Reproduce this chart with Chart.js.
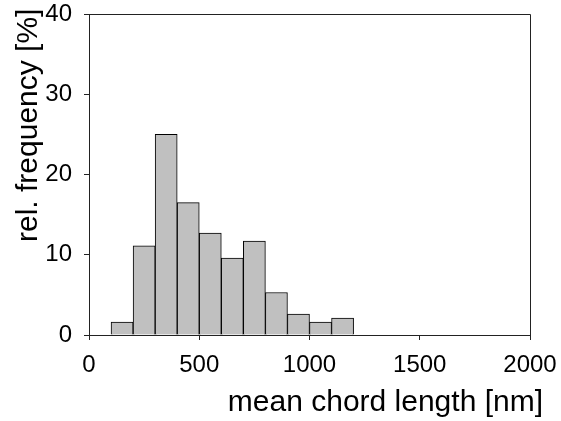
<!DOCTYPE html>
<html lang="en">
<head>
  <meta charset="UTF-8">
  <title>Mean chord length histogram</title>
  <script src="https://cdn.jsdelivr.net/npm/chart.js"></script>
  <style>
    html, body { margin: 0; padding: 0; background: #fff; }
  </style>
</head>
<body>
  <canvas id="myChart" width="561" height="421"></canvas>

  <script>
    // histogram bins (lower edge, nm), width 100 nm
    var binStart = [100, 200, 300, 400, 500, 600, 700, 800, 900, 1000, 1100];
    var binWidth = 100;
    // relative frequency [%]
    var freq = [1.6, 11.1, 25.0, 16.5, 12.7, 9.6, 11.7, 5.3, 2.6, 1.6, 2.1];
    var xTicks = [0, 500, 1000, 1500, 2000];
    var yTicks = [0, 10, 20, 30, 40];

    var FONT = 'Liberation Sans, Arial, sans-serif';

    // frame + axis titles
    var framePlugin = {
      id: 'frame',
      afterDraw: function(chart) {
        var ctx = chart.ctx, a = chart.chartArea;
        ctx.save();
        ctx.strokeStyle = '#222';
        ctx.lineWidth = 1;
        ctx.beginPath();
        ctx.moveTo(a.left, Math.round(a.top) + 0.5);
        ctx.lineTo(Math.round(a.right) + 0.5, Math.round(a.top) + 0.5);
        ctx.lineTo(Math.round(a.right) + 0.5, a.bottom);
        ctx.stroke();

        ctx.fillStyle = '#000';
        ctx.font = '30px ' + FONT;
        ctx.textBaseline = 'alphabetic';
        ctx.textAlign = 'right';
        ctx.fillText('mean chord length [nm]', 543, 411);

        ctx.translate(37, 242);
        ctx.rotate(-Math.PI / 2);
        ctx.textAlign = 'left';
        ctx.fillText('rel. frequency [%]', 0, 0);
        ctx.restore();
      }
    };

    var points = binStart.map(function(s, i) {
      return { x: s + binWidth / 2, y: freq[i] };
    });

    var ctx = document.getElementById('myChart').getContext('2d');
    var myChart = new Chart(ctx, {
      type: 'bar',
      data: {
        datasets: [{
          data: points,
          backgroundColor: '#c0c0c0',
          borderColor: '#000',
          borderWidth: 1,
          barPercentage: 1,
          categoryPercentage: 1,
          grouped: false
        }]
      },
      options: {
        responsive: false,
        animation: false,
        layout: { padding: { top: 14, right: 31, left: 0, bottom: 0 } },
        plugins: { legend: { display: false }, tooltip: { enabled: false } },
        scales: {
          x: {
            type: 'linear',
            min: xTicks[0],
            max: xTicks[xTicks.length - 1],
            offset: false,
            afterFit: function(axis) {
              axis.height = 86;
              axis.paddingLeft = 0;
              axis.paddingRight = 0;
            },
            grid: { drawOnChartArea: false, offset: false, tickLength: 5, color: '#222' },
            border: { color: '#222' },
            ticks: {
              stepSize: xTicks[1] - xTicks[0],
              color: '#000',
              font: { family: FONT, size: 24 },
              padding: 11,
              maxRotation: 0,
              callback: function(v) { return String(v); }
            }
          },
          y: {
            min: yTicks[0],
            max: yTicks[yTicks.length - 1],
            afterFit: function(axis) {
              axis.width = 89;
              axis.paddingTop = 0;
              axis.paddingBottom = 0;
            },
            grid: { drawOnChartArea: false, tickLength: 5, color: '#222' },
            border: { color: '#222' },
            ticks: {
              stepSize: yTicks[1] - yTicks[0],
              color: '#000',
              font: { family: FONT, size: 24 },
              padding: 12,
              callback: function(v) { return String(v); }
            }
          }
        }
      },
      plugins: [framePlugin]
    });
  </script>
</body>
</html>
